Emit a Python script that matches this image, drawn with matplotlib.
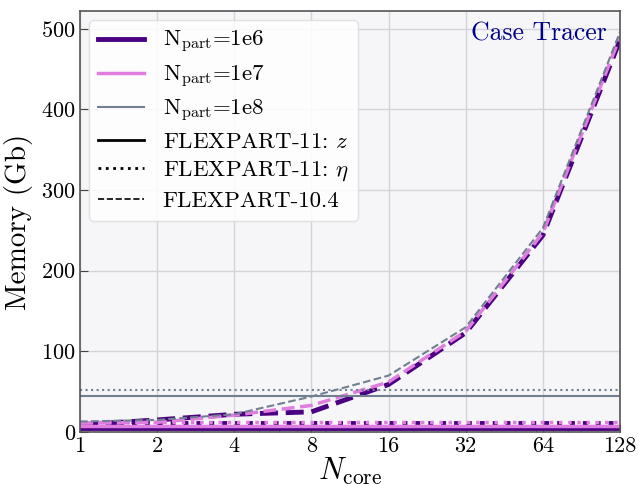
import matplotlib
matplotlib.use("Agg")
import matplotlib.pyplot as plt
import numpy as np
from matplotlib.lines import Line2D
from matplotlib.ticker import NullFormatter

plt.rcParams["font.family"] = "serif"
plt.rcParams["font.serif"] = ["cmr10"]
plt.rcParams["mathtext.fontset"] = "cm"
plt.rcParams["axes.formatter.use_mathtext"] = True

n_core = [1, 2, 4, 8, 16, 32, 64, 128]

# FLEXPART-11 (z): constant memory
mem_z = {"1e6": 5, "1e7": 8, "1e8": 45}
# FLEXPART-11 (eta): constant memory
mem_eta = {"1e6": 11, "1e7": 13, "1e8": 52}
# FLEXPART-10.4
mem_104_1e6 = [9, 15, 22, 25, 59, 123, 244, 486]
mem_104_1e7 = [11, 12, 21, 33, 62, 125, 247, 490]
mem_104_1e8 = [13, 15, 22, 44, 70, 130, 253, 496]

colors = {"1e6": "#4b0082", "1e7": "#e07ee0", "1e8": "#708090"}
widths = {"1e6": 3.5, "1e7": 2.5, "1e8": 1.5}
mem_104 = {"1e6": mem_104_1e6, "1e7": mem_104_1e7, "1e8": mem_104_1e8}

fig = plt.figure(figsize=(6.38, 4.84), dpi=100)
ax = fig.add_axes([0.1254, 0.1074, 0.8464, 0.8698])
ax.set_facecolor("#f6f6f9")

for key in ["1e6", "1e7", "1e8"]:
    c, lw = colors[key], widths[key]
    ax.plot(n_core, [mem_z[key]] * len(n_core), color=c, lw=lw, ls="-")
    ax.plot(n_core, [mem_eta[key]] * len(n_core), color=c, lw=lw, ls=":")
    ax.plot(n_core, mem_104[key], color=c, lw=lw, ls="--")

ax.set_xscale("log")
ax.set_xticks(n_core)
ax.set_xticklabels([str(n) for n in n_core])
ax.xaxis.set_minor_formatter(NullFormatter())
ax.set_xlim(1, 128)
ax.set_ylim(0, 522)
ax.set_yticks([0, 100, 200, 300, 400, 500])

ax.grid(True, which="major", color="#d4d4d8", lw=1)
ax.set_axisbelow(True)
ax.tick_params(which="both", direction="in", labelsize=16, color="#444444")
ax.tick_params(which="major", length=6, pad=3)
ax.tick_params(which="minor", length=3)
for s in ax.spines.values():
    s.set_color("#555555")
    s.set_linewidth(1.2)

ax.set_xlabel(r"$N_{\rm core}$", fontsize=22, labelpad=0)
ax.set_ylabel("Memory (Gb)", fontsize=21, labelpad=6)

ax.text(0.975, 0.975, "Case Tracer", transform=ax.transAxes, ha="right", va="top",
        fontsize=18.5, color="#00008b")

handles = [
    Line2D([], [], color=colors["1e6"], lw=widths["1e6"]),
    Line2D([], [], color=colors["1e7"], lw=widths["1e7"]),
    Line2D([], [], color=colors["1e8"], lw=widths["1e8"]),
    Line2D([], [], color="black", lw=2, ls="-"),
    Line2D([], [], color="black", lw=2, ls=":"),
    Line2D([], [], color="black", lw=1.2, ls="--"),
]
labels = [
    r"N$_{\rm part}$=1e6",
    r"N$_{\rm part}$=1e7",
    r"N$_{\rm part}$=1e8",
    r"FLEXPART-11: $z$",
    r"FLEXPART-11: $\eta$",
    "FLEXPART-10.4",
]
ax.legend(handles, labels, loc="upper left", fontsize=16.5, framealpha=0.85,
          facecolor="white", edgecolor="#dddddd", labelspacing=0.35,
          borderaxespad=0.4)

fig.savefig("out.png", dpi=100)
